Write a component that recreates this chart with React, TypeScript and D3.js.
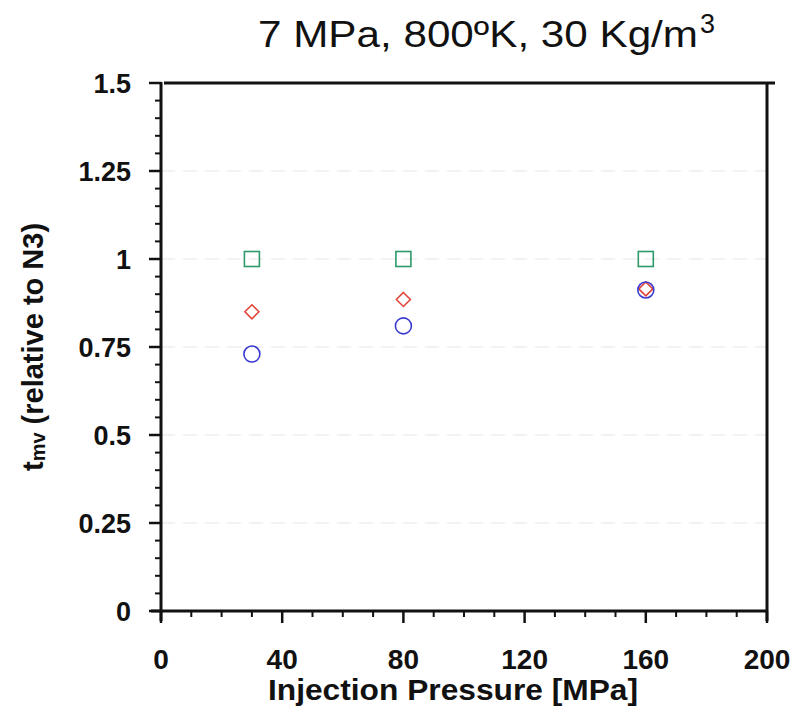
import React from "react";
import * as d3 from "d3";

const pressures = [30, 80, 160];
const squareVals = [1.0, 1.0, 1.0];
const diamondVals = [0.85, 0.885, 0.915];
const circleVals = [0.73, 0.81, 0.912];
const xTicks = [0, 40, 80, 120, 160, 200];
const yTicks = [0, 0.25, 0.5, 0.75, 1, 1.25, 1.5];
const yTickLabels = ["0", "0.25", "0.5", "0.75", "1", "1.25", "1.5"];

const W = 796, H = 712;
const m = { left: 161, right: 767, top: 83, bottom: 611 };

export default function App() {
  const x = d3.scaleLinear().domain([0, 200]).range([m.left, m.right]);
  const y = d3.scaleLinear().domain([0, 1.5]).range([m.bottom, m.top]);
  const xMinor = d3.range(0, 201, 10).filter((v) => v % 40 !== 0);
  const yMinor = d3.range(0, 1.5001, 0.05).filter((v) => Math.abs(v / 0.25 - Math.round(v / 0.25)) > 1e-6);
  const font = "Liberation Sans, Arial, sans-serif";
  return (
    <svg width={W} height={H} style={{ position: "absolute", left: 0, top: 0, background: "#fff" }}>
      <rect width={W} height={H} fill="#fff" />
      {yTicks.slice(1, -1).map((v) => (
        <line key={"g" + v} x1={m.left} x2={m.right} y1={y(v)} y2={y(v)} stroke="#eeeeee" strokeWidth={1.5} strokeDasharray="14 8" />
      ))}
      {/* frame */}
      <line x1={m.left} x2={m.left} y1={m.top - 1} y2={m.bottom + 10} stroke="#111" strokeWidth={3} />
      <line x1={m.left - 10} x2={m.right} y1={m.bottom} y2={m.bottom} stroke="#111" strokeWidth={3} />
      <line x1={m.left + 3} x2={m.right + 8} y1={m.top} y2={m.top} stroke="#111" strokeWidth={3} />
      <line x1={m.right} x2={m.right} y1={m.top} y2={m.bottom + 10} stroke="#111" strokeWidth={3} />
      {/* y ticks */}
      {yTicks.map((v, i) => (
        <g key={"yt" + v}>
          <line x1={m.left - 12} x2={m.left} y1={y(v)} y2={y(v)} stroke="#111" strokeWidth={2.5} />
          <text x={m.left - 30} y={y(v)} dy="0.36em" textAnchor="end" fontFamily={font} fontWeight="bold" fontSize={27} fill="#111">
            {yTickLabels[i]}
          </text>
        </g>
      ))}
      {yMinor.map((v) => (
        <line key={"ym" + v} x1={m.left - 6} x2={m.left} y1={y(v)} y2={y(v)} stroke="#111" strokeWidth={2} />
      ))}
      {/* x ticks */}
      {xTicks.map((v) => (
        <g key={"xt" + v}>
          <line x1={x(v)} x2={x(v)} y1={m.bottom} y2={m.bottom + 12} stroke="#111" strokeWidth={2.5} />
          <text x={x(v)} y={m.bottom + 58} textAnchor="middle" fontFamily={font} fontWeight="bold" fontSize={28} fill="#111">
            {v}
          </text>
        </g>
      ))}
      {xMinor.map((v) => (
        <line key={"xm" + v} x1={x(v)} x2={x(v)} y1={m.bottom} y2={m.bottom + 6} stroke="#111" strokeWidth={2} />
      ))}
      {/* data */}
      {pressures.map((p, i) => (
        <rect key={"s" + i} x={x(p) - 7.5} y={y(squareVals[i]) - 7.5} width={15} height={15} fill="none" stroke="#2e9a6a" strokeWidth={1.6} />
      ))}
      {pressures.map((p, i) => {
        const cx = x(p), cy = y(diamondVals[i]), r = 7;
        return (
          <path key={"d" + i} d={`M${cx},${cy - r}L${cx + r},${cy}L${cx},${cy + r}L${cx - r},${cy}Z`} fill="none" stroke="#e0453a" strokeWidth={1.6} />
        );
      })}
      {pressures.map((p, i) => (
        <circle key={"c" + i} cx={x(p)} cy={y(circleVals[i])} r={8} fill="none" stroke="#3a3ad0" strokeWidth={1.6} />
      ))}
      {/* titles */}
      <text x={258} y={47} fontFamily={font} fontSize={37} fill="#111" textLength={440} lengthAdjust="spacingAndGlyphs">
        7 MPa, 800ºK, 30 Kg/m
      </text>
      <text x={700} y={33} fontFamily={font} fontSize={27} fill="#111">3</text>
      <text x={268} y={700} fontFamily={font} fontWeight="bold" fontSize={30} fill="#111" textLength={370} lengthAdjust="spacingAndGlyphs">
        Injection Pressure [MPa]
      </text>
      <text transform={`translate(43, ${(m.top + m.bottom) / 2}) rotate(-90)`} textAnchor="middle" fontFamily={font} fontWeight="bold" fontSize={29} fill="#111">
        t<tspan fontSize={20} dy={2}>mv</tspan><tspan dy={-2}> (relative to N3)</tspan>
      </text>
    </svg>
  );
}
